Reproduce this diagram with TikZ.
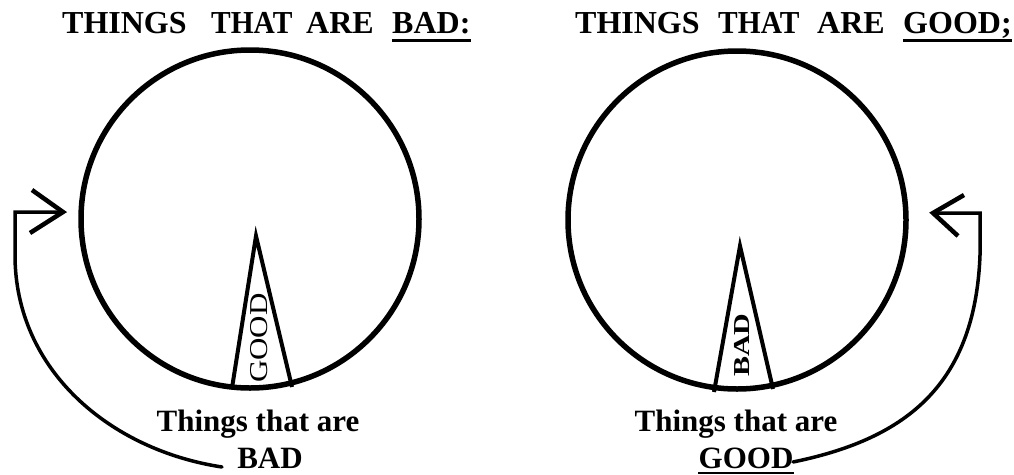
\documentclass[tikz,border=0pt]{standalone}
\usepackage{fontspec}
\setmainfont{Liberation Serif}
\usepackage{graphicx}
\begin{document}
\begin{tikzpicture}[x=1pt,y=-1pt,
  title/.style={font=\fontsize{32}{32}\selectfont\bfseries, anchor=base west, inner sep=0pt},
  lbl/.style={font=\fontsize{31}{31}\selectfont\bfseries, anchor=base, inner sep=0pt},
  ring/.style={circle, draw, line width=5.5pt, inner sep=0pt, minimum size=338pt},
  wedge/.style={line width=4pt, line join=miter},
  curve/.style={line width=3.5pt, line cap=round},
  barb/.style={line width=4.5pt, line join=miter, line cap=butt},
  uline/.style={line width=3pt},
  wtext/.style={rotate=90, inner sep=0pt}]
\useasboundingbox (0,0) rectangle (1014,474);

% titles
\node[title] (t1a) at (62,33) {THINGS};
\node[title] (t1b) at (211,33) {\scalebox{0.92}[1]{THAT}};
\node[title] (t1c) at (306,33) {ARE};
\node[title] (t1d) at (392,33) {BAD:};
\draw[uline] ([yshift=-7pt]t1d.base west) -- ([yshift=-7pt]t1d.base east);

\node[title] (t2a) at (575,33) {THINGS};
\node[title] (t2b) at (718,33) {\scalebox{0.92}[1]{THAT}};
\node[title] (t2c) at (817,33) {ARE};
\node[title] (t2d) at (903,33) {GOOD;};
\draw[uline] ([yshift=-7pt]t2d.base west) -- ([yshift=-7pt]t2d.base east);

% circles
\node[ring] (c1) at (250,219) {};
\node[ring] (c2) at (737,220) {};

% wedges
\coordinate (w1tip) at (256,236);
\coordinate (w1l) at (232,388);
\coordinate (w1r) at (292,387);
\draw[wedge] (w1l) -- (w1tip) -- (w1r);
\node[wtext, font=\fontsize{31}{31}\selectfont] (w1) at (259.5,338) {\scalebox{1}[0.83]{GOOD}};

\coordinate (w2tip) at (740,246);
\coordinate (w2l) at (714,392);
\coordinate (w2r) at (773,389);
\draw[wedge] (w2l) -- (w2tip) -- (w2r);
\node[wtext, font=\fontsize{30}{30}\selectfont\bfseries] (w2) at (741.5,345) {\scalebox{1}[0.76]{BAD}};

% bottom labels
\node[lbl] (b1) at (258,431) {Things that are};
\node[lbl] (b2) at (270,468) {BAD};
\node[lbl] (b3) at (736,431) {Things that are};
\node[lbl] (b4) at (746,468) {GOOD};
\draw[line width=2pt] ([yshift=-5pt]b4.base west) -- ([yshift=-5pt]b4.base east);

% left curved arrow
\coordinate (lend) at (222,467);
\coordinate (lcorner) at (15,212);
\coordinate (ltip) at (63,212);
\draw[curve] (lend) .. controls (110,450) and (15,370) .. (15,255) -- (lcorner) -- (ltip);
\draw[barb] (32,190) -- (ltip) -- (30,233);

% right curved arrow
\coordinate (rend) at (793,462);
\coordinate (rcorner) at (980,213);
\coordinate (rtip) at (933,213);
\draw[curve] (rend) .. controls (900,440) and (975,390) .. (980,255) -- (rcorner) -- (rtip);
\draw[barb] (964,195) -- (rtip) -- (958,236);
\end{tikzpicture}
\end{document}
